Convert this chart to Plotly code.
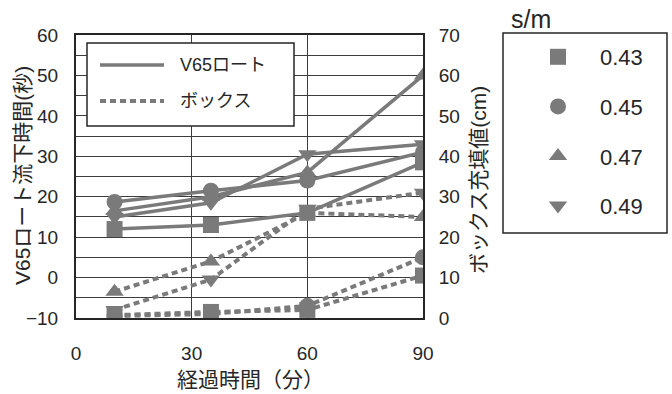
import plotly.graph_objects as go

# Elapsed time (min) at which each batch was measured
elapsed_min = [10, 35, 60, 90]

# Water/cement-type ratio labels (s/m) and marker symbols
sm_labels = ["0.43", "0.45", "0.47", "0.49"]
sm_symbols = ["square", "circle", "triangle-up", "triangle-down"]

# V65 funnel flow-down time (s) -- left axis
v65_043 = [12.0, 13.0, 16.0, 28.5]
v65_045 = [18.7, 21.5, 24.0, 31.0]
v65_047 = [16.5, 20.0, 26.0, 50.0]
v65_049 = [15.0, 18.5, 30.5, 33.0]

# Box filling height (cm) -- right axis
box_043 = [0.7, 1.5, 2.0, 10.5]
box_045 = [0.5, 1.0, 3.0, 15.0]
box_047 = [6.5, 14.0, 26.0, 25.0]
box_049 = [2.0, 9.5, 27.0, 31.0]

v65_series = [v65_043, v65_045, v65_047, v65_049]
box_series = [box_043, box_045, box_047, box_049]

GREY = "#7a7a7a"
INK = "#262626"
GRID = "#3c3c3c"
JP_FONT = "Liberation Sans, Noto Sans CJK JP, sans-serif"
DASH = "6px,4px"

fig = go.Figure()

for lab, sym, vals in zip(sm_labels, sm_symbols, box_series):
    fig.add_trace(go.Scatter(
        x=elapsed_min, y=vals, yaxis="y2", mode="lines+markers",
        line=dict(color=GREY, width=4, dash=DASH),
        marker=dict(symbol=sym, size=16, color=GREY),
        showlegend=False, name=lab,
    ))

for lab, sym, vals in zip(sm_labels, sm_symbols, v65_series):
    fig.add_trace(go.Scatter(
        x=elapsed_min, y=vals, mode="lines+markers",
        line=dict(color=GREY, width=3.5),
        marker=dict(symbol=sym, size=16, color=GREY),
        showlegend=False, name=lab,
    ))

# marker-only entries for the s/m legend
for lab, sym in zip(sm_labels, sm_symbols):
    fig.add_trace(go.Scatter(
        x=[None], y=[None], mode="markers", name=lab, legendgroup=lab,
        marker=dict(symbol=sym, size=16, color=GREY),
    ))

axis_common = dict(
    showline=True, linecolor=INK, linewidth=2, mirror=True,
    ticks="", tickfont=dict(family=JP_FONT, size=19, color=INK),
    zeroline=False,
)

fig.update_layout(
    width=672, height=394,
    margin=dict(l=76, r=249, t=35, b=76),
    paper_bgcolor="white", plot_bgcolor="white",
    font=dict(family=JP_FONT, color=INK),
    xaxis=dict(
        range=[0, 90], tickvals=[0, 30, 60, 90],
        showgrid=True, gridcolor=GRID, gridwidth=1.4,
        ticklabelstandoff=17, **axis_common,
    ),
    yaxis=dict(
        range=[-10, 60], dtick=10, tick0=0,
        showgrid=True, gridcolor=GRID, gridwidth=1.4,
        minor=dict(dtick=5, tick0=0, showgrid=True, gridcolor=GRID, gridwidth=1.4),
        ticklabelstandoff=12, **axis_common,
    ),
    yaxis2=dict(
        range=[0, 70], dtick=10, overlaying="y", side="right",
        showgrid=False, ticklabelstandoff=10, **axis_common,
    ),
    legend=dict(
        xref="container", yref="container",
        x=516 / 672, y=1 - 36 / 394, xanchor="left", yanchor="top",
        font=dict(size=22, color=INK), itemwidth=74,
        tracegroupgap=18, borderwidth=0, bgcolor="rgba(0,0,0,0)",
        maxheight=360,
    ),
)

def px_x(p):
    return (p - 76) / 347

def px_y(p):
    return 1 - (p - 35) / 283

shapes = [
    # line-style legend box inside the plot
    dict(type="rect", xref="paper", yref="paper",
         x0=px_x(87), x1=px_x(294), y0=px_y(126), y1=px_y(43),
         line=dict(color=INK, width=1.5), fillcolor="white", layer="above"),
    dict(type="line", xref="paper", yref="paper",
         x0=px_x(100), x1=px_x(164), y0=px_y(65), y1=px_y(65),
         line=dict(color=GREY, width=3.5), layer="above"),
    dict(type="line", xref="paper", yref="paper",
         x0=px_x(100), x1=px_x(164), y0=px_y(101), y1=px_y(101),
         line=dict(color=GREY, width=4, dash=DASH), layer="above"),
    # s/m legend frame
    dict(type="rect", xref="paper", yref="paper",
         x0=px_x(503), x1=px_x(667), y0=px_y(233), y1=px_y(33),
         line=dict(color=INK, width=1.5), fillcolor="rgba(0,0,0,0)"),
]
fig.update_layout(shapes=shapes)

annotations = [
    dict(text="V65ロート", x=px_x(178), y=px_y(65), xanchor="left", yanchor="middle",
         font=dict(size=18, color=INK)),
    dict(text="ボックス", x=px_x(178), y=px_y(101), xanchor="left", yanchor="middle",
         font=dict(size=18, color=INK)),
    dict(text="s/m", x=px_x(509), y=px_y(19), xanchor="left", yanchor="middle",
         font=dict(size=25, color=INK)),
    dict(text="経過時間（分）", x=px_x(250), y=px_y(379), xanchor="center", yanchor="middle",
         font=dict(size=21, color=INK)),
    dict(text="V65ロート流下時間(秒)", x=px_x(22), y=px_y(176), xanchor="center", yanchor="middle",
         textangle=-90, font=dict(size=21, color=INK)),
    dict(text="ボックス充填値(cm)", x=px_x(478), y=px_y(180), xanchor="center", yanchor="middle",
         textangle=-90, font=dict(size=21, color=INK)),
]
for a in annotations:
    a.update(xref="paper", yref="paper", showarrow=False)
fig.update_layout(annotations=annotations)

fig.write_html("out.html")
